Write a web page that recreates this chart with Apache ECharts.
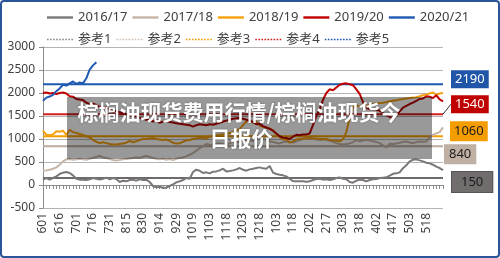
<!DOCTYPE html>
<html>
<head>
<meta charset="utf-8">
<script src="https://cdn.jsdelivr.net/npm/echarts@6/dist/echarts.min.js"></script>
<style>
html,body{margin:0;padding:0;background:#fff;}
#chart{width:500px;height:258px;}
</style>
</head>
<body>
<div id="chart"></div>
<script>
// ---- data ----
const categories = [
 '601','604','607','610','613','616','619','622','625','628',
 '701','704','707','710','713','716','719','722','725','728',
 '731','803','806','809','812','815','818','821','824','827',
 '830','902','905','908','911','914','917','920','923','926',
 '929','1003','1007','1011','1015','1019','1022','1025','1028','1031',
 '1103','1106','1109','1112','1115','1118','1121','1124','1127','1130',
 '1203','1206','1209','1212','1215','1218','1221','1224','1227','1230',
 '103','106','109','112','115','118','121','124','127','130',
 '202','205','208','211','214','217','220','223','226','301',
 '303','306','309','312','315','318','321','324','327','330',
 '402','405','408','411','414','417','420','423','426','429',
 '503','506','509','512','515','518','521','524','527','530',
 '602'
];
const seasonNames = ['2016/17','2017/18','2018/19','2019/20','2020/21'];
const s1617 = [
 116,152,116,152,188,239,268,282,260,210,
 137,116,116,108,123,152,137,116,137,159,
 123,152,130,65,94,80,108,116,94,123,
 108,116,65,-22,-51,-36,-65,-58,-22,14,
 58,80,108,152,137,282,333,311,260,275,
 253,289,296,318,354,296,304,318,340,369,
 333,311,340,354,369,383,362,354,412,268,
 239,224,210,188,137,80,80,80,80,72,
 80,108,130,137,116,123,108,123,152,166,
 137,123,65,51,94,116,108,80,108,123,
 130,152,159,166,202,243,253,275,366,427,
 513,549,557,535,513,484,470,441,398,369,
 325
];
const s1718 = [
 311,318,333,354,383,441,513,557,564,549,
 557,571,557,549,571,586,607,636,600,586,
 564,542,535,542,557,564,578,586,600,586,
 615,629,607,586,571,557,571,549,564,542,
 571,586,600,622,658,694,745,803,839,889,
 875,882,897,911,889,875,904,947,933,940,
 962,983,969,954,991,1019,998,976,947,933,
 918,904,933,947,933,925,947,976,998,1012,
 1019,1005,991,976,983,983,962,940,911,889,
 882,889,904,933,976,947,969,983,969,954,
 933,911,860,817,897,889,904,918,933,947,
 925,911,933,947,940,947,1034,1092,1121,1150,
 1251
];
const s1819 = [
 1180,1090,1080,1100,1170,1160,1180,1090,1200,1150,
 1130,1110,1090,1060,1030,980,940,910,930,910,
 890,880,880,890,900,920,960,930,950,980,
 1000,1000,1010,1020,1000,990,980,990,960,920,
 900,910,940,970,980,1000,1010,1030,1020,1010,
 1050,1060,1080,1090,1100,1110,1130,1150,1180,1220,
 1300,1380,1420,1350,1380,1290,1260,1250,1230,1190,
 1100,1040,990,990,920,950,990,1000,1010,1010,
 1020,1010,1010,1000,1000,1000,980,970,960,950,
 990,1150,1450,1700,1730,1710,1720,1730,1740,1760,
 1770,1780,1790,1800,1820,1830,1840,1860,1870,1880,
 1890,1900,1910,1930,1950,1970,1990,2010,1960,1990,
 2000
];
const s1920 = [
 2000,2010,1990,2000,1980,2000,2010,1990,1930,1920,
 1870,1860,1850,1790,1760,1770,1740,1700,1690,1680,
 1640,1600,1610,1580,1560,1540,1520,1500,1490,1460,
 1440,1420,1410,1380,1420,1350,1380,1390,1370,1360,
 1340,1330,1320,1310,1300,1270,1300,1320,1310,1300,
 1320,1310,1330,1350,1380,1400,1420,1440,1450,1460,
 1440,1420,1400,1370,1320,1330,1280,1250,1220,1180,
 1120,1060,1030,1020,1000,1050,1090,1080,1100,1100,
 1120,1300,1500,1650,1850,2000,2080,2060,2120,2180,
 2200,2210,2190,2170,2080,1980,1800,1680,1650,1640,
 1630,1620,1560,1520,1480,1450,1520,1600,1680,1720,
 1760,1790,1830,1870,1880,1930,1920,1890,1950,1860,
 1820
];
const s2021 = [1829,1900,1923,1960,2040,2100,2180,2160,2210,2250,2200,2230,2210,2320,2510,2600,2670];
const refNames = ['参考1','参考2','参考3','参考4','参考5'];
const refValues = [150, 840, 1060, 1540, 2190];
const yMin = -500, yMax = 3000, yStep = 500;
const titleLine1 = '棕榈油现货费用行情/棕榈油现货今';
const titleLine2 = '日报价';

// ---- styles ----
const FONT = '"Noto Sans","Noto Sans CJK SC",sans-serif';
const seasonColors = ['#7a7777', '#c6b5a6', '#f5a10e', '#c00000', '#1f58b0'];
const refColors = ['#6e6a6a', '#bcac9e', '#f29d00', '#d21f1f', '#1f58b0'];
const refDotColors = ['#8a8a8a', '#cdbfb2', '#f29d00', '#d21f1f', '#1f58b0'];
const refLabel = [
  {bg:'#716d6d', fg:'#1c1c1c', dy:4,  dist:9, pad:[2,9,2,9], border:'#555'},
  {bg:'#bfb0a3', fg:'#1c1c1c', dy:8,  dist:2, pad:[1,4,1,4], border:'#bfb0a3'},
  {bg:'#f49d00', fg:'#1c1c1c', dy:-5, dist:8, pad:[1,3,1,3], border:'#f49d00'},
  {bg:'#c00000', fg:'#ffffff', dy:-10,dist:9, pad:[0,3,0,3], border:'#c00000'},
  {bg:'#1f56a8', fg:'#ffffff', dy:-5, dist:9, pad:[0,3,0,3], border:'#1f56a8'}
];
const SOLID_ICON = 'path://M0,0H26V2.4H0Z';
let dots = '';
for (let x = 0; x <= 24; x += 3) dots += 'M' + x + ',0h1.6v1.6h-1.6z';
const DOT_ICON = 'path://' + dots;

const seasonData = [s1617, s1718, s1819, s1920, s2021];
const series = [];
seasonData.forEach((d, k) => {
  series.push({
    name: seasonNames[k], type: 'line', data: d, xAxisIndex: 0,
    symbol: 'none', showSymbol: false, smooth: false,
    lineStyle: {color: seasonColors[k], width: 2},
    itemStyle: {color: seasonColors[k]},
    z: 3 + k
  });
});
refValues.forEach((v, k) => {
  const L = refLabel[k];
  const last = categories.length - 1;
  const data = categories.map((c, i) => i === last ? {
    value: v,
    label: {
      show: true, position: 'right', distance: L.dist,
      formatter: String(v), opacity: 1,
      color: L.fg, backgroundColor: L.bg, borderColor: L.border, borderWidth: 1,
      padding: L.pad, fontSize: 13, lineHeight: 16, fontFamily: FONT
    }
  } : v);
  series.push({
    name: refNames[k], type: 'line', data: data, xAxisIndex: 0,
    symbol: 'circle', symbolSize: 0, showSymbol: true, showAllSymbol: true,
    lineStyle: {color: refColors[k], width: 2},
    itemStyle: {color: refDotColors[k]},
    label: {show: false},
    labelLayout: {dy: L.dy},
    labelLine: k === 3 ? {show: true, lineStyle: {color: '#333', width: 1}} : {show: false},
    emphasis: {disabled: true},
    z: 2
  });
});

const chart = echarts.init(document.getElementById('chart'), null, {renderer: 'canvas'});
chart.setOption({
  animation: false,
  backgroundColor: '#fff',
  textStyle: {fontFamily: FONT},
  grid: {left: 43, right: 57, top: 47, bottom: 50, containLabel: false},
  legend: [
    {
      data: seasonNames.map((n, k) => ({name: n, icon: SOLID_ICON, itemStyle: {color: seasonColors[k], opacity: 1}})),
      left: 47, top: 11, padding: 0, itemWidth: 26, itemHeight: 14, itemGap: 5,
      textStyle: {fontSize: 13, color: '#404040', fontFamily: FONT, width: 48}
    },
    {
      data: refNames.map((n, k) => ({name: n, icon: DOT_ICON, itemStyle: {color: refDotColors[k], opacity: 1}})),
      left: 47, top: 33, padding: 0, itemWidth: 26, itemHeight: 14, itemGap: 5,
      textStyle: {fontSize: 13, color: '#404040', fontFamily: FONT, width: 48}
    }
  ],
  xAxis: [
    {
      type: 'category', data: categories, boundaryGap: false,
      position: 'bottom',
      axisLine: {show: true, onZero: true, lineStyle: {color: '#8c8c8c', width: 1}},
      axisTick: {show: true, interval: 0, length: 4, lineStyle: {color: '#8c8c8c'}},
      axisLabel: {show: false},
      splitLine: {show: false}
    },
    {
      type: 'category', data: categories, boundaryGap: false,
      position: 'bottom',
      axisLine: {show: false, onZero: false},
      axisTick: {show: false},
      axisLabel: {
        show: true, rotate: 90, margin: 5, fontSize: 12, color: '#404040', fontFamily: FONT,
        interval: (i) => i % 5 === 0 && i < categories.length - 1
      },
      splitLine: {show: false}
    }
  ],
  yAxis: {
    type: 'value', min: yMin, max: yMax, interval: yStep,
    axisLine: {show: true, lineStyle: {color: '#8c8c8c'}},
    axisTick: {show: true, length: 4, lineStyle: {color: '#8c8c8c'}},
    axisLabel: {fontSize: 12, color: '#404040', margin: 8, fontFamily: FONT, formatter: (v) => String(v)},
    splitLine: {show: true, lineStyle: {color: '#b4b4b4', width: 1}}
  },
  series: series,
  graphic: [
    {
      type: 'rect', z: 100, silent: true,
      shape: {x: 67, y: 97, width: 365, height: 62},
      style: {fill: 'rgba(0,0,0,0.4)'}
    },
    {
      type: 'text', z: 101, silent: true,
      x: 239, y: 102,
      style: {
        text: titleLine1, fill: '#ffffff', align: 'center', verticalAlign: 'top',
        font: 'bold 21px "Noto Sans CJK SC","Noto Sans",sans-serif',
        textShadowColor: 'rgba(0,0,0,0.35)', textShadowBlur: 2
      }
    },
    {
      type: 'text', z: 101, silent: true,
      x: 241, y: 128,
      style: {
        text: titleLine2, fill: '#ffffff', align: 'center', verticalAlign: 'top',
        font: 'bold 21px "Noto Sans CJK SC","Noto Sans",sans-serif',
        textShadowColor: 'rgba(0,0,0,0.35)', textShadowBlur: 2
      }
    },
    {
      type: 'rect', z: 110, silent: true,
      shape: {x: 1, y: 1, width: 498, height: 256, r: 3},
      style: {fill: 'none', stroke: '#2a5699', lineWidth: 2}
    }
  ]
});
</script>
</body>
</html>
